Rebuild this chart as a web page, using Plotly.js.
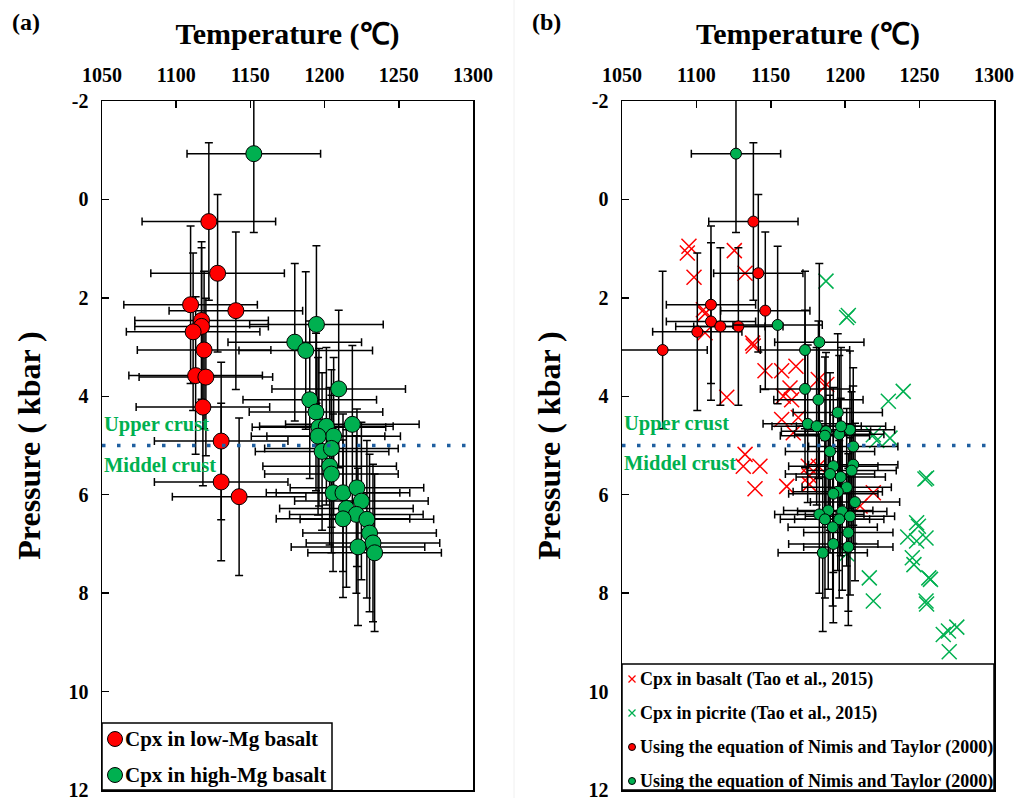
<!DOCTYPE html>
<html>
<head>
<meta charset="utf-8">
<script src="https://cdn.plot.ly/plotly-3.0.1.min.js"></script>
<style>
html,body{margin:0;padding:0;background:#fff;}
#chart{width:1021px;height:798px;}
</style>
</head>
<body>
<div id="chart"></div>
<script>
// ---------------- DATA ----------------
// Panel (a): Cpx in low-Mg basalt (T in °C, P in kbar)
const aLowMgT = [1122.0, 1127.9, 1109.7, 1140.2, 1117.1, 1117.1, 1111.4, 1118.8, 1113.1, 1120.0, 1118.0, 1130.3, 1130.3, 1142.4];
const aLowMgP = [0.45, 1.50, 2.14, 2.26, 2.46, 2.58, 2.69, 3.06, 3.58, 3.61, 4.22, 4.91, 5.74, 6.04];
// Panel (a): Cpx in high-Mg basalt
const aHighMgT = [1152.3, 1194.5, 1179.9, 1187.3, 1209.5, 1190.0, 1194.2, 1218.7, 1196.2, 1201.2, 1206.1, 1195.6, 1198.3, 1204.6,
                  1203.4, 1204.6, 1205.7, 1212.4, 1221.8, 1224.8, 1214.7, 1221.4, 1212.4, 1228.5, 1230.3, 1232.6, 1222.5, 1233.7];
const aHighMgP = [-0.93, 2.54, 2.90, 3.07, 3.85, 4.07, 4.32, 4.57, 4.63, 4.61, 4.81, 4.81, 5.12, 5.06,
                  5.42, 5.58, 5.96, 5.96, 5.86, 6.13, 6.28, 6.40, 6.49, 6.50, 6.78, 6.98, 7.06, 7.18];
const aErrT = 45;   // ± °C
const aErrP = 1.6;  // ± kbar

// Panel (b): Cpx in basalt (Tao et al., 2015)
const bBasaltT = [1095.0, 1093.9, 1125.5, 1098.4, 1132.7, 1104.7, 1105.8, 1105.8, 1137.8, 1138.2, 1146.1, 1157.3, 1166.9, 1181.9, 1187.6,
                  1120.4, 1162.9, 1158.4, 1164.0, 1157.3, 1168.5, 1165.1, 1132.7, 1131.5, 1142.7, 1139.4, 1160.7, 1175.2, 1182.0,
                  1175.9, 1175.9, 1218.9, 1210.0];
const bBasaltP = [0.95, 1.09, 1.04, 1.58, 1.50, 2.24, 2.32, 2.71, 2.92, 2.98, 3.48, 3.48, 3.39, 3.66, 3.76,
                  4.02, 3.83, 4.00, 4.07, 4.47, 4.43, 4.74, 5.18, 5.42, 5.42, 5.88, 5.83, 5.42, 5.42,
                  5.62, 5.79, 5.96, 6.23];
// Panel (b): Cpx in picrite (Tao et al., 2015)
const bPicriteT = [1187.1, 1201.0, 1202.1, 1239.0, 1229.0, 1218.9, 1230.1, 1221.2, 1253.6, 1254.7, 1248.0, 1249.2, 1242.0, 1248.0,
                   1254.3, 1245.1, 1246.2, 1256.2, 1257.3, 1216.2, 1218.9, 1254.3, 1254.7, 1265.9, 1269.4, 1275.0, 1269.9, 1201.0];
const bPicriteP = [1.66, 2.40, 2.36, 3.90, 4.10, 4.78, 4.85, 4.90, 5.68, 5.66, 6.57, 6.64, 6.86, 6.94,
                   6.88, 7.28, 7.42, 7.69, 7.72, 7.69, 8.16, 8.16, 8.22, 8.84, 8.77, 8.69, 9.19, 7.20];
// Panel (b): Nimis and Taylor (2000), red and green
const bNimisRedT = [1138.3, 1141.6, 1109.8, 1146.3, 1109.8, 1116.1, 1128.2, 1100.6, 1077.3];
const bNimisRedP = [0.45, 1.50, 2.14, 2.26, 2.48, 2.58, 2.58, 2.69, 3.06];
const bNimisGreenT = [1126.6, 1154.6, 1182.6, 1173.0, 1173.0, 1182.0, 1195.0, 1174.8, 1180.8, 1187.1, 1196.0, 1203.2, 1197.2, 1186.4,
                      1205.4, 1189.8, 1205.4, 1192.0, 1204.3, 1189.8, 1197.0, 1201.0, 1195.0, 1192.0, 1206.6, 1188.6, 1198.0,
                      1182.6, 1186.4, 1203.2, 1196.0, 1191.6, 1202.1, 1192.0, 1202.1, 1184.9];
const bNimisGreenP = [-0.93, 2.55, 2.90, 3.06, 3.85, 4.07, 4.33, 4.56, 4.61, 4.71, 4.77, 4.68, 4.61, 4.80,
                      5.02, 5.12, 5.39, 5.42, 5.51, 5.58, 5.64, 5.85, 5.94, 5.98, 6.15, 6.32, 6.34,
                      6.40, 6.50, 6.44, 6.50, 6.66, 6.77, 7.00, 7.06, 7.18];
const bErrT = 30;
const bErrP = 1.6;

const xTickVals = [1050, 1100, 1150, 1200, 1250, 1300];
const yTickVals = [-2, 0, 2, 4, 6, 8, 10, 12];
const crustBoundary = 5; // kbar

// ---------------- STYLE ----------------
const W = 1021, H = 798;
const fx = p => p / W;
const fy = p => 1 - p / H;
const SERIF = '"Liberation Serif","Times New Roman",Times,serif';
const RED = '#ff0000', GREEN = '#00b050', BLUE = '#1f5fa0', CRUST = '#00b050';

function errBars(dT, dP) {
  return {
    error_x: {type: 'constant', value: dT, color: '#000', thickness: 1.5, width: 4},
    error_y: {type: 'constant', value: dP, color: '#000', thickness: 1.5, width: 4}
  };
}

const traces = [
  Object.assign({
    x: aLowMgT, y: aLowMgP, xaxis: 'x', yaxis: 'y', type: 'scatter', mode: 'markers',
    name: 'Cpx in low-Mg basalt', showlegend: false,
    marker: {size: 16, color: RED, line: {color: '#000', width: 1}}
  }, errBars(aErrT, aErrP)),
  Object.assign({
    x: aHighMgT, y: aHighMgP, xaxis: 'x', yaxis: 'y', type: 'scatter', mode: 'markers',
    name: 'Cpx in high-Mg basalt', showlegend: false,
    marker: {size: 16, color: GREEN, line: {color: '#000', width: 1}}
  }, errBars(aErrT, aErrP)),
  {
    x: bBasaltT, y: bBasaltP, xaxis: 'x2', yaxis: 'y2', type: 'scatter', mode: 'markers',
    name: 'Cpx in basalt (Tao et al., 2015)', showlegend: false,
    marker: {symbol: 'x-thin-open', size: 15, color: RED, line: {color: RED, width: 1.5}}
  },
  {
    x: bPicriteT, y: bPicriteP, xaxis: 'x2', yaxis: 'y2', type: 'scatter', mode: 'markers',
    name: 'Cpx in picrite (Tao et al., 2015)', showlegend: false,
    marker: {symbol: 'x-thin-open', size: 15, color: GREEN, line: {color: GREEN, width: 1.5}}
  },
  Object.assign({
    x: bNimisRedT, y: bNimisRedP, xaxis: 'x2', yaxis: 'y2', type: 'scatter', mode: 'markers',
    name: 'Using the equation of Nimis and Taylor (2000)', showlegend: false,
    marker: {size: 11, color: RED, line: {color: '#000', width: 1}}
  }, errBars(bErrT, bErrP)),
  Object.assign({
    x: bNimisGreenT, y: bNimisGreenP, xaxis: 'x2', yaxis: 'y2', type: 'scatter', mode: 'markers',
    name: 'Using the equation of Nimis and Taylor (2000)', showlegend: false,
    marker: {size: 11, color: GREEN, line: {color: '#000', width: 1}}
  }, errBars(bErrT, bErrP))
];

function xAxis(domain, anchor) {
  return {
    domain: domain, anchor: anchor, side: 'top', range: [1050, 1300],
    tickmode: 'array', tickvals: xTickVals, ticktext: xTickVals.map(String),
    ticks: 'inside', ticklen: 7, tickwidth: 1.5, tickcolor: '#000',
    showline: true, linecolor: '#000', linewidth: 1.5, mirror: true,
    showgrid: false, zeroline: false, ticklabelstandoff: 10, ticklabeloverflow: 'allow',
    tickfont: {family: SERIF, size: 20, color: '#000', weight: 'bold'},
    title: {text: 'Temperature (℃)', standoff: 10, font: {family: SERIF, size: 30, color: '#000', weight: 'bold'}}
  };
}
function yAxis(domain, anchor) {
  return {
    domain: domain, anchor: anchor, range: [12, -2], autorange: false,
    tickmode: 'array', tickvals: yTickVals, ticktext: yTickVals.map(String),
    ticks: 'inside', ticklen: 7, tickwidth: 1.5, tickcolor: '#000',
    showline: true, linecolor: '#000', linewidth: 1.5, mirror: true,
    showgrid: false, zeroline: false, ticklabelstandoff: 8, ticklabeloverflow: 'allow',
    tickfont: {family: SERIF, size: 20, color: '#000', weight: 'bold'},
    title: {text: 'Pressure ( kbar )', standoff: 18, font: {family: SERIF, size: 32, color: '#000', weight: 'bold'}}
  };
}

const yDom = [fy(790), fy(101)];
const shapes = [
  // faint panel separator
  {type: 'line', xref: 'paper', yref: 'paper', x0: fx(514), x1: fx(514), y0: 0, y1: 1, line: {color: '#f0f0f0', width: 1}},
  // crust boundary dotted lines
  {type: 'line', xref: 'x domain', yref: 'y', x0: 0, x1: 1, y0: crustBoundary, y1: crustBoundary,
   line: {color: BLUE, width: 3.5, dash: '3.5px,11.5px'}},
  {type: 'line', xref: 'x2 domain', yref: 'y2', x0: 0, x1: 1, y0: crustBoundary, y1: crustBoundary,
   line: {color: BLUE, width: 3.5, dash: '3.5px,11.5px'}},
  // legend boxes
  {type: 'rect', xref: 'paper', yref: 'paper', x0: fx(102), x1: fx(332), y0: fy(790), y1: fy(723),
   fillcolor: '#fff', line: {color: '#000', width: 1.5}},
  {type: 'rect', xref: 'paper', yref: 'paper', x0: fx(622), x1: fx(994), y0: fy(790), y1: fy(664),
   fillcolor: '#fff', line: {color: '#000', width: 1.5}}
];
function legCircle(cx, cy, r, color) {
  return {type: 'circle', xref: 'paper', yref: 'paper', xsizemode: 'pixel', ysizemode: 'pixel',
    xanchor: fx(cx), yanchor: fy(cy), x0: -r, x1: r, y0: -r, y1: r,
    fillcolor: color, line: {color: '#000', width: 1}};
}
function legCross(cx, cy, r, color) {
  return {type: 'path', xref: 'paper', yref: 'paper', xsizemode: 'pixel', ysizemode: 'pixel',
    xanchor: fx(cx), yanchor: fy(cy),
    path: `M${-r},${-r}L${r},${r}M${-r},${r}L${r},${-r}`,
    line: {color: color, width: 1.3}};
}
shapes.push(legCircle(115, 739, 7.5, RED), legCircle(115, 775, 7.5, GREEN));
shapes.push(legCross(632, 679, 3.5, RED), legCross(632, 713, 3.5, GREEN));
shapes.push(legCircle(632, 747, 3.5, RED), legCircle(632, 781, 3.5, GREEN));

function txt(text, x, y, size, color, anchor) {
  return {text: text, xref: 'paper', yref: 'paper', x: fx(x), y: fy(y), xanchor: anchor || 'left', yanchor: 'middle',
    showarrow: false, font: {family: SERIF, size: size, color: color || '#000', weight: 'bold'}};
}
const annotations = [
  txt('(a)', 26, 22, 24, '#000', 'center'),
  txt('(b)', 546, 22, 24, '#000', 'center'),
  txt('Upper crust', 102, 424, 20.5, CRUST),
  txt('Middel crust', 102, 465, 20.5, CRUST),
  txt('Upper crust', 622, 423, 20.5, CRUST),
  txt('Middel crust', 622, 463, 20.5, CRUST),
  txt(traces[0].name, 123, 739, 21),
  txt(traces[1].name, 123, 775, 21),
  txt(traces[2].name, 638, 679, 18),
  txt(traces[3].name, 638, 713, 18),
  txt(traces[4].name, 638, 747, 18),
  txt(traces[5].name, 638, 781, 18)
];

const layout = {
  width: W, height: H,
  margin: {l: 0, r: 0, t: 0, b: 0},
  paper_bgcolor: '#fff', plot_bgcolor: '#fff',
  showlegend: false,
  xaxis: xAxis([fx(102), fx(473)], 'y'),
  yaxis: yAxis(yDom, 'x'),
  xaxis2: xAxis([fx(622), fx(994)], 'y2'),
  yaxis2: yAxis(yDom, 'x2'),
  shapes: shapes,
  annotations: annotations
};

Plotly.newPlot('chart', traces, layout, {displayModeBar: false, staticPlot: true});
</script>
</body>
</html>
